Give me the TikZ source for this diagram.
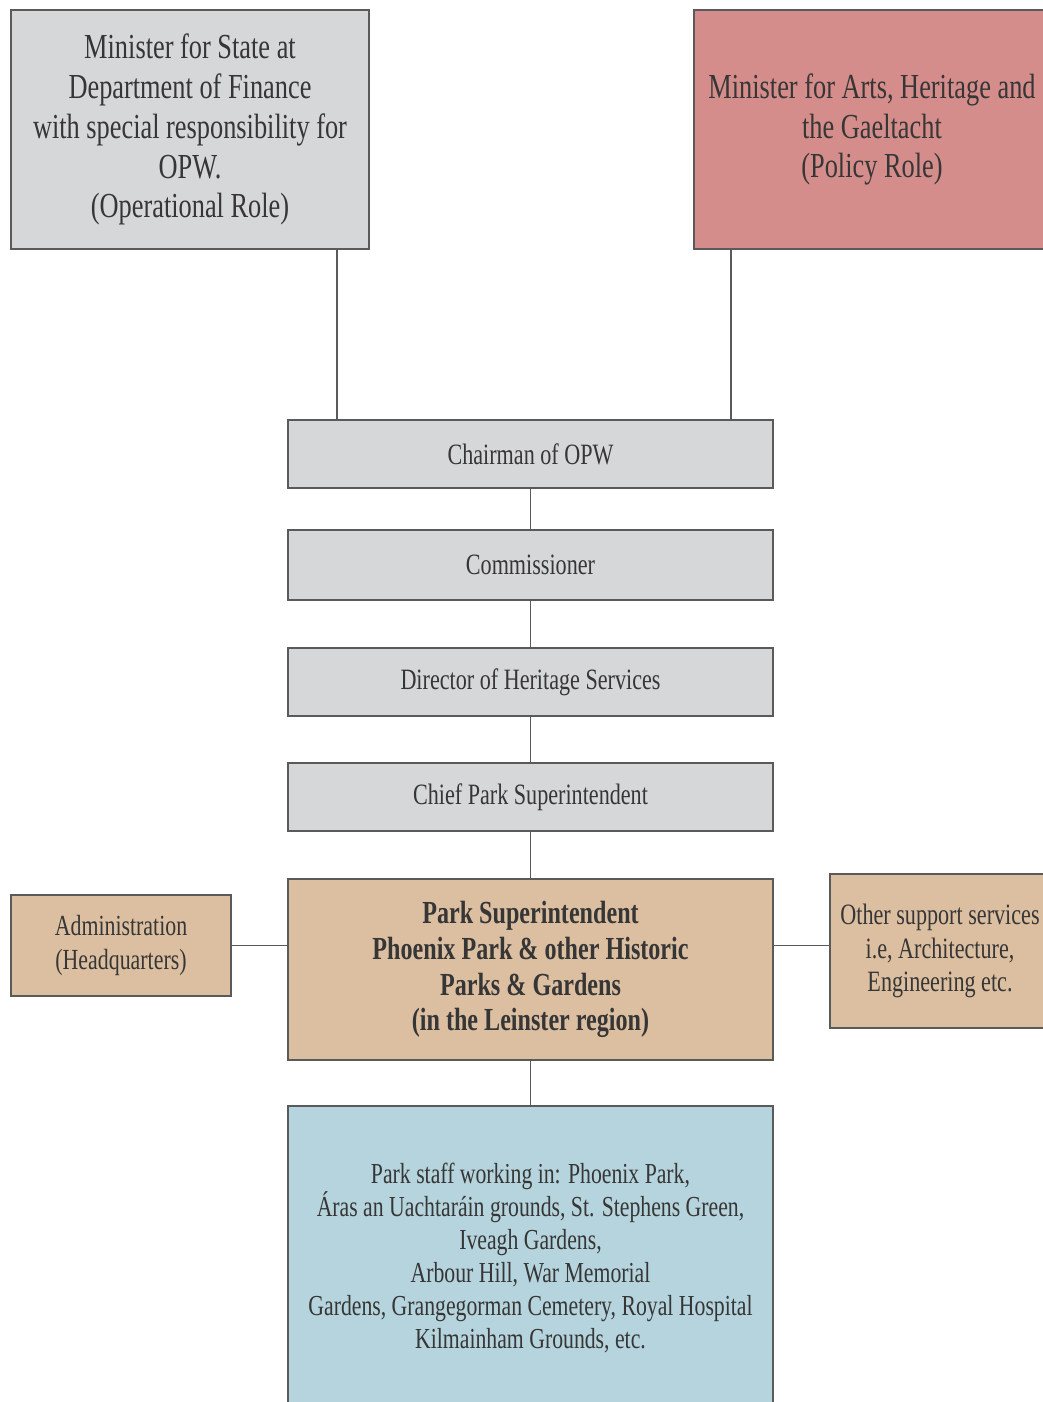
\documentclass[tikz,border=0pt]{standalone}
\usepackage{fontspec}
\setmainfont{Liberation Serif}[FakeStretch=0.75]
\usetikzlibrary{positioning,calc}

\definecolor{boxgray}{HTML}{D6D7D9}
\definecolor{boxpink}{HTML}{D58D8B}
\definecolor{boxtan}{HTML}{DCBFA1}
\definecolor{boxblue}{HTML}{B6D4DD}
\definecolor{edgegray}{HTML}{5A5A5A}
\definecolor{inkgray}{HTML}{363636}

\tikzset{
    orgbox/.style={draw=edgegray, line width=1pt, rectangle, align=center,
        text=inkgray, inner sep=2pt},
    bigtext/.style={font=\fontsize{20}{22.7}\selectfont},
    midtext/.style={font=\fontsize{16.8}{18.9}\selectfont},
    link/.style={draw=edgegray, line width=1pt}
}

\begin{document}
\begin{tikzpicture}[x=0.02cm, y=-0.02cm]
    % page frame, 1043 x 1402
    \fill[white] (0,0) rectangle (1043,1402);
    \clip (0,0) rectangle (1043,1402);

    % ministers
    \node[orgbox, bigtext, fill=boxgray, minimum width=7.16cm, minimum height=4.78cm]
        (mfin) at (190,129.5) {Minister for State at\\Department of Finance\\with special responsibility for\\OPW.\\(Operational Role)};
    \node[orgbox, bigtext, fill=boxpink, minimum width=7.12cm, minimum height=4.78cm]
        (marts) at (872,129.5) {Minister for Arts, Heritage and\\the Gaeltacht\\(Policy Role)};

    % chain of office
    \node[orgbox, midtext, fill=boxgray, minimum width=9.7cm, minimum height=1.36cm]
        (chair) at (530.5,454) {Chairman of OPW};
    \node[orgbox, midtext, fill=boxgray, minimum width=9.7cm, minimum height=1.4cm]
        (comm) at (530.5,565) {Commissioner};
    \node[orgbox, midtext, fill=boxgray, minimum width=9.7cm, minimum height=1.36cm]
        (dir) at (530.5,682) {Director of Heritage Services};
    \node[orgbox, midtext, fill=boxgray, minimum width=9.7cm, minimum height=1.36cm]
        (chief) at (530.5,797) {Chief Park Superintendent};
    \node[orgbox, font=\bfseries\fontsize{18.3}{20.4}\selectfont, fill=boxtan,
        minimum width=9.7cm, minimum height=3.62cm]
        (psup) at (530.5,969.5) {Park Superintendent\\Phoenix Park \& other Historic\\Parks \& Gardens\\(in the Leinster region)};

    % side boxes
    \node[orgbox, midtext, font=\fontsize{16.6}{19.3}\selectfont, fill=boxtan,
        minimum width=4.4cm, minimum height=2.02cm]
        (admin) at (121,945.5) {Administration\\(Headquarters)};
    \node[orgbox, midtext, fill=boxtan, minimum width=4.4cm, minimum height=3.08cm]
        (other) at (940,951) {Other support services\\i.e, Architecture,\\Engineering etc.};

    % staff
    \node[orgbox, font=\fontsize{16.5}{18.7}\selectfont, fill=boxblue,
        minimum width=9.7cm, minimum height=6.08cm]
        (staff) at (530.5,1258) {Park staff working in: Phoenix Park,\\\'Aras an Uachtar\'ain grounds, St. Stephens Green,\\Iveagh Gardens,\\Arbour Hill, War Memorial\\Gardens, Grangegorman Cemetery, Royal Hospital\\Kilmainham Grounds, etc.};

    % connectors
    \draw[link] ([xshift=-0.66cm]mfin.south east) -- ([xshift=-0.66cm]mfin.south east |- chair.north);
    \draw[link] ([xshift=0.76cm]marts.south west) -- ([xshift=0.76cm]marts.south west |- chair.north);
    \draw[link] (chair) -- (comm);
    \draw[link] (comm) -- (dir);
    \draw[link] (dir) -- (chief);
    \draw[link] (chief) -- (psup);
    \draw[link] (psup) -- (staff);
    \draw[link] (admin.east) -- (admin.east -| psup.west);
    \draw[link] (psup.east |- admin.east) -- (other.west |- admin.east);
\end{tikzpicture}
\end{document}
